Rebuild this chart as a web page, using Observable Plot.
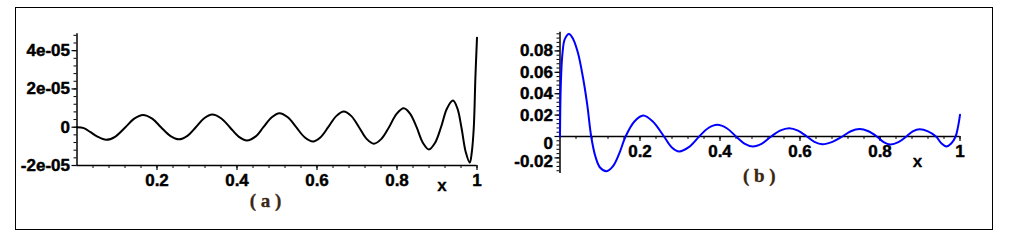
<!DOCTYPE html>
<html><head><meta charset="utf-8">
<script src="https://cdn.jsdelivr.net/npm/d3@7"></script>
<script src="https://cdn.jsdelivr.net/npm/@observablehq/plot@0.6"></script>
<style>
body{margin:0;background:#fff;}
#wrap{position:relative;width:1026px;height:252px;overflow:hidden;background:#fff;}
#frame{position:absolute;left:15px;top:7px;width:976px;height:221px;border:1.5px solid #000;}
.panel{position:absolute;top:0;}
#pa{left:0}
#pb{left:513px}
</style></head>
<body><div id="wrap"><div id="frame"></div><div id="pa" class="panel"></div><div id="pb" class="panel"></div></div>
<script>
// Panel (a) curve
const xa = [0, 0.017, 0.034, 0.05, 0.073, 0.095, 0.121, 0.143, 0.165, 0.188, 0.210, 0.233, 0.255, 0.276, 0.297, 0.318, 0.338, 0.360, 0.382, 0.404, 0.425, 0.446, 0.466, 0.487, 0.506, 0.527, 0.548, 0.569, 0.590, 0.609, 0.628, 0.648, 0.667, 0.686, 0.705, 0.724, 0.742, 0.761, 0.780, 0.799, 0.817, 0.833, 0.849, 0.865, 0.880, 0.895, 0.910, 0.925, 0.940, 0.951, 0.961, 0.972, 0.982, 0.987, 0.992, 0.996, 1.000];
const ya = [0, -0.05e-5, -0.26e-5, -0.48e-5, -0.66e-5, -0.50e-5, 0, 0.45e-5, 0.64e-5, 0.45e-5, 0, -0.45e-5, -0.63e-5, -0.45e-5, 0, 0.47e-5, 0.66e-5, 0.47e-5, 0, -0.49e-5, -0.69e-5, -0.49e-5, 0, 0.52e-5, 0.73e-5, 0.52e-5, 0, -0.52e-5, -0.74e-5, -0.52e-5, 0, 0.58e-5, 0.82e-5, 0.58e-5, 0, -0.61e-5, -0.86e-5, -0.61e-5, 0, 0.70e-5, 0.99e-5, 0.70e-5, 0, -0.82e-5, -1.16e-5, -0.82e-5, 0, 0.98e-5, 1.39e-5, 0.98e-5, 0, -1.31e-5, -1.85e-5, -1.30e-5, 0, 2.6e-5, 4.68e-5];

// Panel (b) curve
const xb = [0, 0.002, 0.006, 0.012, 0.0225, 0.033, 0.045, 0.058, 0.068, 0.078, 0.088, 0.100, 0.1165, 0.132, 0.148, 0.164, 0.186, 0.208, 0.232, 0.260, 0.279, 0.298, 0.322, 0.348, 0.370, 0.393, 0.417, 0.440, 0.461, 0.482, 0.505, 0.528, 0.550, 0.573, 0.595, 0.617, 0.636, 0.656, 0.681, 0.706, 0.727, 0.749, 0.771, 0.792, 0.809, 0.826, 0.846, 0.866, 0.882, 0.899, 0.920, 0.940, 0.954, 0.966, 0.978, 0.989, 0.995, 1.000];
const yb = [0, 0.048, 0.077, 0.091, 0.0958, 0.091, 0.078, 0.054, 0.030, 0, -0.018, -0.029, -0.0325, -0.028, -0.016, 0, 0.0140, 0.0196, 0.0140, 0, -0.0100, -0.0140, -0.0100, 0, 0.0077, 0.0109, 0.0077, 0, -0.0066, -0.0093, -0.0066, 0, 0.0055, 0.0078, 0.0055, 0, -0.0050, -0.0072, -0.0050, 0, 0.0049, 0.0070, 0.0049, 0, -0.0053, -0.0075, -0.0053, 0, 0.0048, 0.0068, 0.0048, 0, -0.0066, -0.0093, -0.0066, 0, 0.009, 0.0203];

// Ticks
const xTicks = [0.2, 0.4, 0.6, 0.8, 1];
const xTickLabels = ["0.2", "0.4", "0.6", "0.8", "1"];
const yaTicks = [-2e-5, 0, 2e-5, 4e-5];
const yaTickLabels = ["-2e-05", "0", "2e-05", "4e-05"];
const ybTicks = [-0.02, 0, 0.02, 0.04, 0.06, 0.08];
const ybTickLabels = ["-0.02", "0", "0.02", "0.04", "0.06", "0.08"];
const ybLabelShift = [3.6, 7.5, 0, 0, 0, 0];
const xMinor = d3.range(0.04, 1.001, 0.04);
const yaMinor = d3.range(-2e-5, 4.81e-5, 0.4e-5);
const ybMinor = d3.range(-0.032, 0.0965, 0.004);

const yaDomain = [-2e-5, 4.88e-5];
const ybDomain = [-0.0345, 0.0975];
const captionA = "( a )", captionB = "( b )", xLabel = "x";

const sans = "'Liberation Sans', Arial, sans-serif";
const serif = "'Liberation Serif', 'Times New Roman', serif";
const capColor = "#3a2612";
const tickFont = {fontFamily: sans, fontWeight: "bold", fontSize: 17, fill: "#000", stroke: "#000", strokeWidth: 0.45};

function panel(xs, ys, yDomain, axisAt, yTicks, yLabels, yShift, yMinor, color, margins, xLab, cap) {
  const data = xs.map((x, i) => ({x, y: ys[i]}));
  const marks = [
    Plot.ruleX([0], {y1: yDomain[0], y2: yDomain[1], stroke: "#000", strokeWidth: 1.5}),
    Plot.ruleY([axisAt], {x1: 0, x2: 1, stroke: "#000", strokeWidth: 1.5}),
    Plot.ruleX(xMinor, {x: d => d, y1: () => axisAt, y2: () => axisAt, insetBottom: -3, stroke: "#000", strokeWidth: 1}),
    Plot.ruleX(xTicks, {x: d => d, y1: () => axisAt, y2: () => axisAt, insetBottom: -5, stroke: "#000", strokeWidth: 1.2}),
    Plot.ruleY(yMinor, {y: d => d, x1: () => 0, x2: () => 0, insetLeft: -3, stroke: "#000", strokeWidth: 1}),
    Plot.ruleY(yTicks, {y: d => d, x1: () => 0, x2: () => 0, insetLeft: -5, stroke: "#000", strokeWidth: 1.2}),
    Plot.text(xTicks, {x: d => d, y: () => axisAt, text: (d, i) => xTickLabels[i], dy: 15.5, lineAnchor: "middle", ...tickFont}),
    Plot.line(data, {x: "x", y: "y", stroke: color, strokeWidth: 2, curve: "catmull-rom"}),
    Plot.text([xLab.text], {frameAnchor: "bottom-right", dx: xLab.dx, dy: xLab.dy, lineAnchor: "middle", textAnchor: "middle",
      fontFamily: sans, fontWeight: "bold", fontSize: 17, fill: "#000", stroke: "#000", strokeWidth: 0.3}),
    Plot.text([cap.text], {frameAnchor: "bottom", dx: cap.dx, dy: cap.dy, lineAnchor: "middle",
      fontFamily: serif, fontWeight: "bold", fontSize: 19, fill: capColor, stroke: capColor, strokeWidth: 0.3})
  ];
  const shifts = Array.from(new Set(yShift));
  for (const s of shifts) {
    const idx = yTicks.map((d, i) => i).filter(i => yShift[i] === s);
    marks.push(Plot.text(idx, {x: () => 0, y: i => yTicks[i], text: i => yLabels[i], dx: -7, dy: s, textAnchor: "end", lineAnchor: "middle", ...tickFont}));
  }
  return Plot.plot({
    width: 513, height: 252,
    marginLeft: margins[0], marginRight: margins[1], marginTop: margins[2], marginBottom: margins[3],
    x: {domain: [0, 1], axis: null},
    y: {domain: yDomain, axis: null},
    style: {background: "transparent", overflow: "visible"},
    marks
  });
}

document.getElementById("pa").appendChild(panel(xa, ya, yaDomain, yaDomain[0], yaTicks, yaTickLabels, [0,0,0,0], yaMinor, "#000",
  [76.5, 36.5, 33.3, 87], {text: xLabel, dx: -35, dy: 20.5}, {text: captionA, dx: -11.5, dy: 35}));
document.getElementById("pb").appendChild(panel(xb, yb, ybDomain, 0, ybTicks, ybTickLabels, ybLabelShift, ybMinor, "#0000ff",
  [46.5, 66.5, 31.7, 79.1], {text: xLabel, dx: -42.5, dy: -11.4}, {text: captionB, dx: -0.7, dy: 2.8}));
</script>
</body></html>
